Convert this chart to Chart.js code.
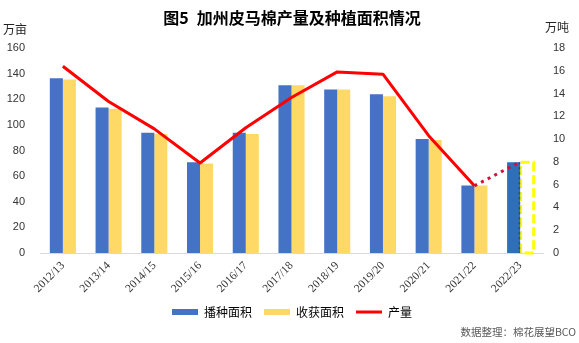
<!DOCTYPE html>
<html><head><meta charset="utf-8">
<script src="https://cdn.jsdelivr.net/npm/chart.js@4.4.1/dist/chart.umd.min.js"></script>
<style>
html,body{margin:0;padding:0;background:#fff;}
#wrap{position:relative;width:579px;height:343px;overflow:hidden;}
canvas{position:absolute;left:0;top:0;}
.t{position:absolute;font-family:'Noto Sans CJK SC';white-space:nowrap;line-height:1;}
</style></head><body>
<div id="wrap">
<canvas id="c" width="579" height="343"></canvas>
<div class="t" style="left:3px;top:23px;font-size:12px;color:#222">万亩</div>
<div class="t" style="left:545px;top:21px;font-size:12px;color:#222">万吨</div>
<div class="t" style="right:3px;top:327px;font-size:10.5px;color:#595959">数据整理：棉花展望BCO</div>
</div>
<script>
const categories = ['2012/13','2013/14','2014/15','2015/16','2016/17','2017/18','2018/19','2019/20','2020/21','2021/22','2022/23'];
const plantedArea   = [136.3, 113.6, 93.8, 70.9, 93.8, 131.0, 127.6, 123.9, 88.9, 52.7, 70.9];
const harvestedArea = [135.5, 112.6, 92.8, 69.9, 92.8, 131.0, 127.6, 122.3, 88.1, 52.7, 70.9];
const production    = [16.4, 13.3, 10.9, 7.9, 11.0, 13.65, 15.9, 15.7, 10.3, 5.9, 8.0];
const areaAxis = {min: 0, max: 160, step: 20};
const prodAxis = {min: 0, max: 18, step: 2};
const seriesNames = ['播种面积', '收获面积', '产量'];
const titleText = '图5\u2002加州皮马棉产量及种植面积情况';

const BLUE = '#4472C4', YELLOW = '#FFD966', RED = '#FF0000';
const last = categories.length - 1;

const specialBars = {
  id: 'specialBars',
  afterDatasetDraw(chart, args) {
    const ctx = chart.ctx;
    if (args.index === 0) {
      const el = chart.getDatasetMeta(0).data[last];
      const p = el.getProps(['x','y','base','width'], true);
      ctx.save();
      ctx.strokeStyle = '#1F4E79';
      ctx.lineWidth = 1.5;
      ctx.setLineDash([2, 3]);
      ctx.beginPath();
      ctx.moveTo(p.x + p.width/2 - 0.75, p.y);
      ctx.lineTo(p.x + p.width/2 - 0.75, p.base);
      ctx.stroke();
      ctx.restore();
    }
    if (args.index === 1) {
      const el = chart.getDatasetMeta(1).data[last];
      const p = el.getProps(['x','y','base','width'], true);
      ctx.save();
      ctx.strokeStyle = '#FFFF00';
      ctx.lineWidth = 3;
      ctx.setLineDash([9, 4]);
      ctx.strokeRect(p.x - p.width/2 + 0.5, p.y, p.width, p.base - p.y);
      ctx.restore();
    }
  }
};

const plantedColors = categories.map((c, i) => i === last ? '#2E6FB8' : BLUE);
const harvestColors = categories.map((c, i) => i === last ? 'rgba(0,0,0,0)' : YELLOW);

new Chart(document.getElementById('c'), {
  data: {
    labels: categories,
    datasets: [
      { type: 'bar', label: seriesNames[0], data: plantedArea, backgroundColor: plantedColors, borderWidth: 0, yAxisID: 'y', order: 1, categoryPercentage: 0.57, barPercentage: 1.0 },
      { type: 'bar', label: seriesNames[1], data: harvestedArea, backgroundColor: harvestColors, borderWidth: 0, yAxisID: 'y', order: 1, categoryPercentage: 0.57, barPercentage: 1.0 },
      { type: 'line', label: seriesNames[2], data: production, borderColor: RED, backgroundColor: RED, borderWidth: 3, pointRadius: 0, tension: 0, yAxisID: 'y1', order: 0, borderJoinStyle: 'round',
        segment: {
          borderDash: c => c.p1DataIndex === last ? [3, 4.5] : undefined,
          borderColor: c => c.p1DataIndex === last ? '#D0103A' : undefined
        } }
    ]
  },
  options: {
    responsive: false,
    animation: false,
    devicePixelRatio: 1,
    layout: { padding: { left: 5, right: 0, top: 0, bottom: 15 } },
    plugins: {
      title: { display: true, text: titleText, color: '#000', font: { family: 'Noto Sans CJK SC', size: 16, weight: 'bold', lineHeight: 1.2 }, padding: { top: 8.4, bottom: 20.4 } },
      tooltip: { enabled: false },
      legend: {
        position: 'bottom',
        labels: {
          usePointStyle: true,
          pointStyleWidth: 26,
          boxHeight: 6,
          padding: 12,
          color: '#222',
          font: { family: 'Noto Sans CJK SC', size: 12 },
          generateLabels: (chart) => chart.data.datasets.map((ds, i) => ({
            text: ds.label,
            fillStyle: i === 0 ? BLUE : (i === 1 ? YELLOW : RED),
            strokeStyle: i === 0 ? BLUE : (i === 1 ? YELLOW : RED),
            lineWidth: i === 2 ? 3 : 0,
            pointStyle: i === 2 ? 'line' : 'rect',
            hidden: false,
            datasetIndex: i
          }))
        }
      }
    },
    scales: {
      x: {
        grid: { display: false, drawTicks: false },
        border: { display: true, color: '#D9D9D9', width: 1 },
        ticks: { minRotation: 45, maxRotation: 45, autoSkip: false, padding: 6, color: '#333', font: { family: 'Liberation Serif', size: 11.5 } },
        afterFit(s) { s.height = 41; }
      },
      y: {
        position: 'left', min: areaAxis.min, max: areaAxis.max,
        grid: { display: false, drawTicks: false }, border: { display: false },
        ticks: { stepSize: areaAxis.step, padding: 15, color: '#333', font: { family: 'Liberation Sans', size: 11 } },
        afterFit(s) { s.width = 35; }
      },
      y1: {
        position: 'right', min: prodAxis.min, max: prodAxis.max,
        grid: { display: false, drawTicks: false }, border: { display: false },
        ticks: { stepSize: prodAxis.step, padding: 10, color: '#333', font: { family: 'Liberation Sans', size: 11 } },
        afterFit(s) { s.width = 36; }
      }
    }
  },
  plugins: [specialBars]
});
</script>
</body></html>
